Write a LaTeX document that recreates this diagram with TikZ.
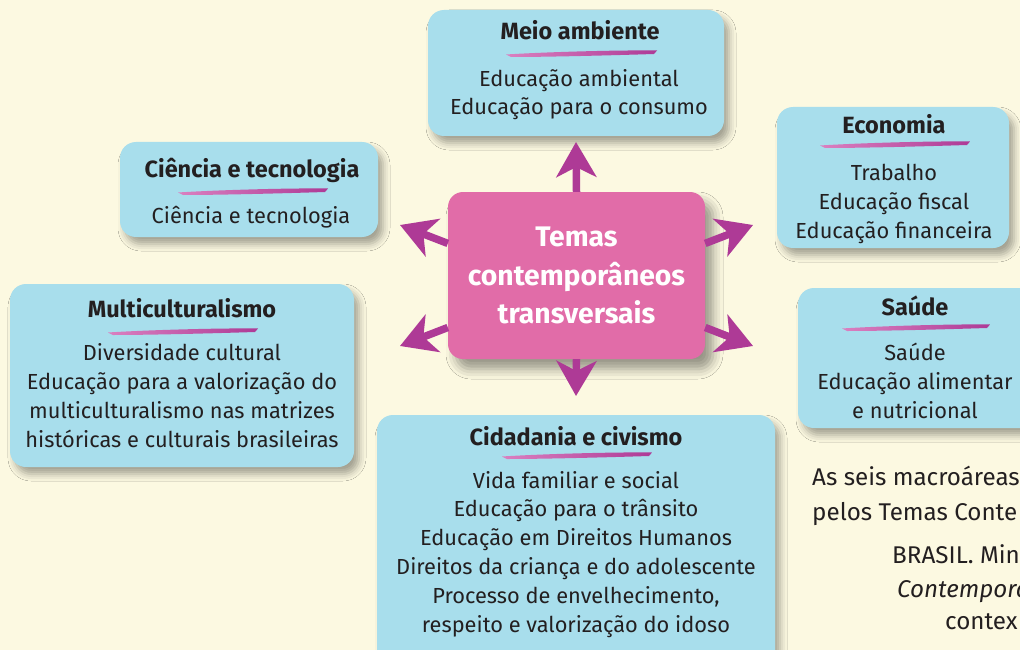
\documentclass[tikz,border=0pt]{standalone}
\usepackage{fontspec}
\setmainfont{Fira Sans}
\usetikzlibrary{arrows.meta,shadows.blur}

\definecolor{bgcream}{RGB}{252,249,225}
\definecolor{boxblue}{RGB}{168,222,236}
\definecolor{hubpink}{RGB}{225,108,168}
\definecolor{arrowpurple}{RGB}{174,58,150}
\definecolor{brushlight}{RGB}{218,128,192}
\definecolor{inkdark}{RGB}{35,31,32}

\begin{document}
\begin{tikzpicture}[x=1pt,y=1pt,yscale=-1,xscale=1,
  themebox/.style={fill=boxblue, rounded corners=16pt, inner sep=0pt,
    blur shadow={shadow xshift=5pt, shadow yshift=-7pt, shadow blur radius=7pt, shadow opacity=35}},
  hub/.style={fill=hubpink, rounded corners=15pt, inner sep=0pt, text=white, align=center,
    minimum width=257pt, minimum height=167pt,
    font=\bfseries\fontsize{28.3}{38.5}\selectfont,
    blur shadow={shadow xshift=8pt, shadow yshift=-10pt, shadow blur radius=10pt, shadow opacity=40}},
  title/.style={font=\bfseries\fontsize{23.5}{26}\selectfont, text=inkdark, anchor=base, inner sep=0pt},
  body/.style={font=\fontsize{21.8}{28.8}\selectfont, text=inkdark, align=center, anchor=base, inner sep=0pt},
  note/.style={font=\fontsize{24.2}{30}\selectfont, text=inkdark, anchor=base west, inner sep=0pt},
  brush/.style={left color=brushlight, right color=arrowpurple},
  spoke/.style={draw=arrowpurple, line width=7.5pt, -{Stealth[length=35pt,width=40pt,inset=10pt]}}]
  \useasboundingbox (0,0) rectangle (1020,650);
  \fill[bgcream] (0,0) rectangle (1020,650);

  %Shape: boxes of the six areas
  \node[themebox, minimum width=296pt, minimum height=126pt] (meioBox) at (576,73) {};
  \node[themebox, minimum width=232pt, minimum height=141pt] (ecoBox) at (893,177.5) {};
  \node[themebox, minimum width=258pt, minimum height=95pt] (cienBox) at (249,189.5) {};
  \node[themebox, minimum width=344pt, minimum height=183pt] (multiBox) at (182,375.5) {};
  \node[themebox, minimum width=252pt, minimum height=140pt] (saudeBox) at (924,358) {};
  \node[themebox, minimum width=398pt, minimum height=275pt] (cidaBox) at (576,552.5) {};

  %Shape: centre
  \node[hub] (hub) at (576.5,275.5) {Temas\\contemporâneos\\transversais};

  % Arrow tips
  \coordinate (tipN) at (576,142);
  \coordinate (tipS) at (576,396);
  \coordinate (tipNW) at (400,225);
  \coordinate (tipSW) at (400,346);
  \coordinate (tipNE) at (753,225);
  \coordinate (tipSE) at (753,346);
  \draw[spoke] (hub.north) -- (tipN);
  \draw[spoke] (hub.south) -- (tipS);
  \draw[spoke] (hub.166) -- (tipNW);
  \draw[spoke] (hub.202) -- (tipSW);
  \draw[spoke] (hub.14) -- (tipNE);
  \draw[spoke] (hub.338) -- (tipSE);

  % Text Node
  \node[title] (meioT) at (580,40) {Meio ambiente};
  \shade[brush] (506,54.5) .. controls (546,52) and (617,50) .. (657,50.5) -- (654,54) .. controls (607,55.5) and (546,57) .. (511,57) -- cycle;
  \node[body] (meioL) at (579,115) {Educação ambiental\\Educação para o consumo};

  % Text Node
  \node[title] (ecoT) at (894,134) {Economia};
  \shade[brush] (820,145.5) .. controls (860,143) and (930,141) .. (970,141.5) -- (967,145) .. controls (920,146.5) and (860,148) .. (825,148) -- cycle;
  \node[body] (ecoL) at (894,238) {Trabalho\\Educação fiscal\\Educação financeira};

  % Text Node
  \node[title] (cienT) at (252,178) {Ciência e tecnologia};
  \shade[brush] (178,192.5) .. controls (218,190) and (288,188) .. (328,188.5) -- (325,192) .. controls (278,193.5) and (218,195) .. (183,195) -- cycle;
  \node[body] (cienL) at (251,223) {Ciência e tecnologia};

  % Text Node
  \node[title] (multiT) at (182,317) {Multiculturalismo};
  \shade[brush] (108,332.5) .. controls (148,330) and (218,328) .. (258,328.5) -- (255,332) .. controls (208,333.5) and (148,335) .. (113,335) -- cycle;
  \node[body] (multiL) at (182,447) {Diversidade cultural\\Educação para a valorização do\\multiculturalismo nas matrizes\\históricas e culturais brasileiras};

  % Text Node
  \node[title] (saudeT) at (915,315) {Saúde};
  \shade[brush] (842,328.5) .. controls (882,326) and (950,324) .. (990,324.5) -- (987,328) .. controls (940,329.5) and (882,331) .. (847,331) -- cycle;
  \node[body] (saudeL) at (915,418) {Saúde\\Educação alimentar\\e nutricional};

  % Text Node
  \node[title] (cidaT) at (576,445) {Cidadania e civismo};
  \shade[brush] (502,456.5) .. controls (542,454) and (612,452) .. (652,452.5) -- (649,456) .. controls (602,457.5) and (542,459) .. (507,459) -- cycle;
  \node[body] (cidaL) at (576,632) {Vida familiar e social\\Educação para o trânsito\\Educação em Direitos Humanos\\Direitos da criança e do adolescente\\Processo de envelhecimento,\\respeito e valorização do idoso};

  % Text Node: caption cut by the page edge
  \node[note] (capA) at (812,485) {As seis macroáreas};
  \node[note] (capB) at (812,520) {pelos Temas Conte};
  \node[note] (capC) at (892,563) {BRASIL. Min};
  \node[note] (capD) at (897,597) {\itshape Contempora};
  \node[note] (capE) at (945,629) {contex};
\end{tikzpicture}
\end{document}
